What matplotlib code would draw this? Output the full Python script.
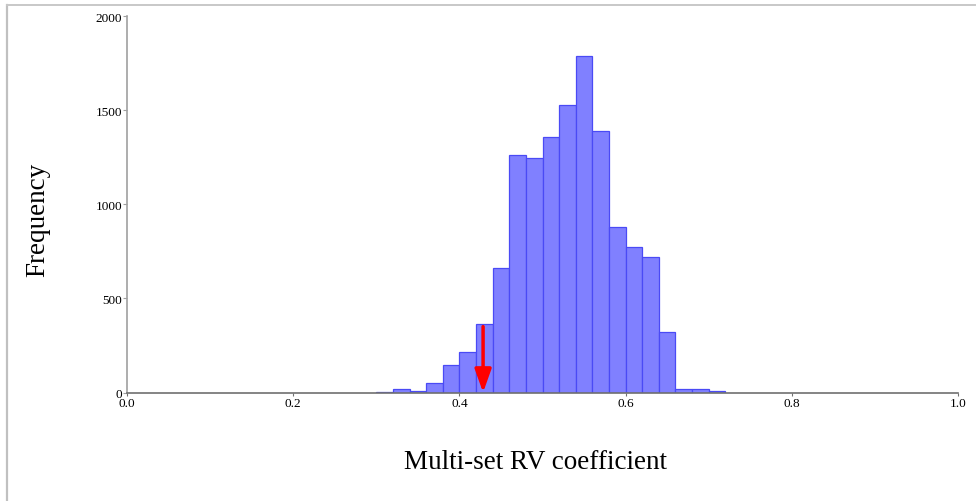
import numpy as np
import matplotlib.pyplot as plt
from matplotlib.lines import Line2D

# ==== Histogram data (bin width 0.02) ====
bin_left = [0.30, 0.32, 0.34, 0.36, 0.38, 0.40, 0.42, 0.44, 0.46, 0.48, 0.50,
            0.52, 0.54, 0.56, 0.58, 0.60, 0.62, 0.64, 0.66, 0.68, 0.70]
counts = [3, 17, 8, 52, 147, 214, 365, 659, 1260, 1244, 1356,
          1526, 1786, 1389, 877, 774, 719, 324, 20, 20, 6]
bin_width = 0.02

# observed coefficient, marked with the red arrow
observed_rv = 0.4285
arrow_top = 350

x_ticks = [0.0, 0.2, 0.4, 0.6, 0.8, 1.0]
x_tick_labels = ['0.0', '0.2', '0.4', '0.6', '0.8', '1.0']
y_ticks = [0, 500, 1000, 1500, 2000]

plt.rcParams['font.family'] = ['Liberation Serif', 'DejaVu Serif']

W, H = 977, 502
fig = plt.figure(figsize=(W / 100, H / 100), dpi=100)
ax = fig.add_axes([127 / W, 1 - 393.5 / H, (958 - 127) / W, (393.5 - 17) / H])

ax.bar(bin_left, counts, width=bin_width, align='edge',
       color='#8080ff', edgecolor='#4a4af5', linewidth=0.9)

ax.annotate('', xy=(observed_rv, 0), xytext=(observed_rv, arrow_top),
            arrowprops=dict(arrowstyle='-|>,head_length=1.4,head_width=0.5',
                            color='#ff0000', lw=2.5, shrinkA=0, shrinkB=0))

ax.set_xlim(0, 1)
ax.set_ylim(0, 2000)
ax.set_xticks(x_ticks)
ax.set_xticklabels(x_tick_labels)
ax.set_yticks(y_ticks)

for side in ('top', 'right'):
    ax.spines[side].set_visible(False)
ax.spines['left'].set_color('#a0a0a0')
ax.spines['bottom'].set_color('#707070')
ax.spines['left'].set_linewidth(1.2)
ax.spines['bottom'].set_linewidth(1.2)
ax.tick_params(axis='y', length=3, pad=0.5, labelsize=9.5, color='#a0a0a0')
ax.tick_params(axis='x', length=2, pad=1.5, labelsize=9.5, color='#707070')

fig.text(536 / W, 1 - 463 / H, 'Multi-set RV coefficient',
         ha='center', va='center', fontsize=19.5)
fig.text(38 / W, 1 - 220 / H, 'Frequency', rotation=90,
         ha='center', va='center', fontsize=19.5)

# thin grey frame on the left and top edges
fig.add_artist(Line2D([7 / W, 7 / W], [0, 1 - 6 / H], color='#c0c0c0',
                      lw=1.6, transform=fig.transFigure))
fig.add_artist(Line2D([7 / W, 975 / W], [1 - 6 / H, 1 - 6 / H], color='#c8c8c8',
                      lw=1.4, transform=fig.transFigure))

fig.savefig('out.png', dpi=100)
